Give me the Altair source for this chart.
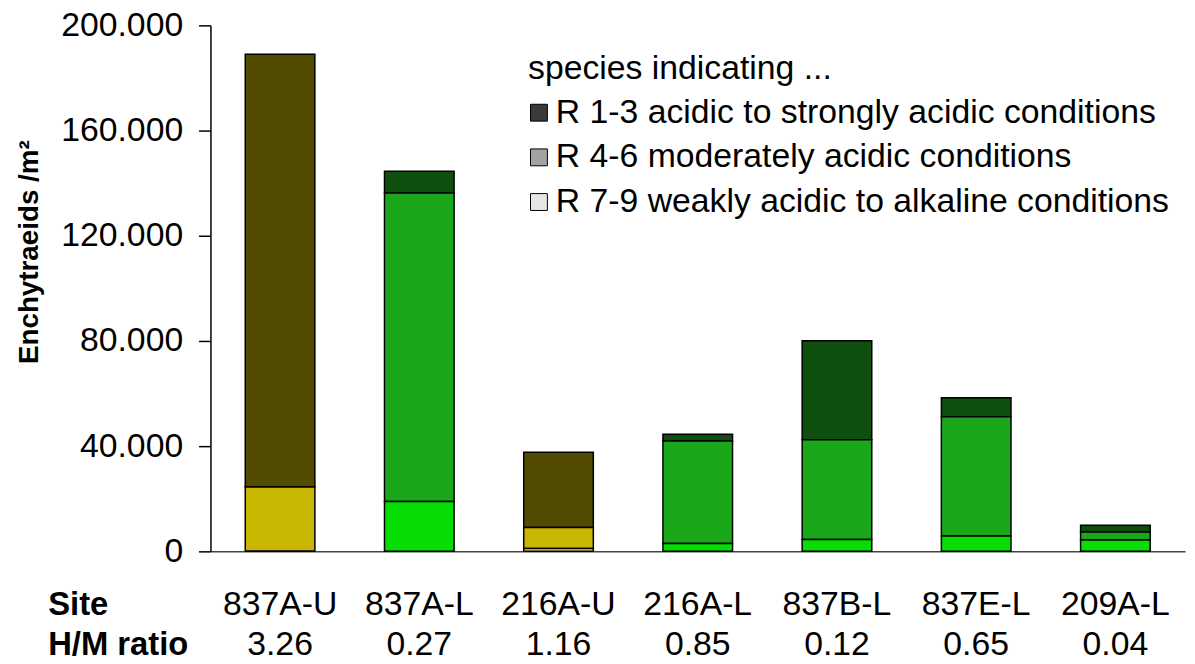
import altair as alt
import pandas as pd

# ---- data ----
sites = ["837A-U", "837A-L", "216A-U", "216A-L", "837B-L", "837E-L", "209A-L"]
hm_ratio = ["3.26", "0.27", "1.16", "0.85", "0.12", "0.65", "0.04"]
site_type = ["U", "L", "U", "L", "L", "L", "L"]
r13 = [164500, 8200, 28600, 2500, 37700, 7200, 2500]     # R 1-3 (top)
r46 = [24500, 117300, 8000, 39000, 37900, 45400, 3100]   # R 4-6 (middle)
r79 = [0, 19000, 1100, 3000, 4500, 5800, 4300]           # R 7-9 (bottom)

classes = [
    "R 1-3 acidic to strongly acidic conditions",
    "R 4-6 moderately acidic conditions",
    "R 7-9 weakly acidic to alkaline conditions",
]
legend_grays = ["#3a3a3a", "#a2a2a2", "#e6e6e6"]
fill_keys = ["U R1-3", "U R4-6", "U R7-9", "L R1-3", "L R4-6", "L R7-9"]
fill_colors = ["#524c00", "#c8b600", "#e6e060", "#0e4f0e", "#1aa81a", "#05dd05"]
y_ticks = [0, 40000, 80000, 120000, 160000, 200000]

FONT = "Liberation Sans"

rows = []
labels = []
for i, s in enumerate(sites):
    lab = f"{s}|{hm_ratio[i]}"
    labels.append(lab)
    for ci, vals in enumerate([r13, r46, r79]):
        short = ["R1-3", "R4-6", "R7-9"][ci]
        rows.append({
            "site": lab,
            "cls": classes[ci],
            "ord": 2 - ci,
            "value": vals[i],
            "key": f"{site_type[i]} {short}",
        })
df = pd.DataFrame(rows)

x_enc = alt.X(
    "site:N",
    sort=labels,
    scale=alt.Scale(paddingInner=0.5, paddingOuter=0.25),
    axis=alt.Axis(
        labelExpr="split(datum.value, '|')",
        labelAngle=0,
        labelFont=FONT,
        labelFontSize=34,
        labelColor="#000000",
        labelBaseline="top",
        labelLineHeight=40,
        labelPadding=37,
        labelOverlap=False,
        ticks=False,
        tickSize=0,
        domainColor="#444444",
        domainWidth=1.5,
        title=["Site", "H/M ratio"],
        titleFont=FONT,
        titleFontSize=33,
        titleFontWeight="bold",
        titleColor="#000000",
        titleAlign="left",
        titleBaseline="top",
        titleAngle=0,
        titleLineHeight=40,
        titleX=-164,
        titleY=38,
    ),
)

bars = alt.Chart(df).mark_bar(stroke="#000000", strokeWidth=1.5).encode(
    x=x_enc,
    y=alt.Y(
        "value:Q",
        stack="zero",
        scale=alt.Scale(domain=[0, 200000], nice=False),
        axis=alt.Axis(
            values=y_ticks,
            labelExpr="replace(format(datum.value, ','), ',', '.')",
            labelFont=FONT,
            labelFontSize=34,
            labelColor="#000000",
            labelPadding=16,
            tickSize=12,
            tickColor="#000000",
            tickWidth=1.5,
            domainColor="#000000",
            domainWidth=1.5,
            title="Enchytraeids /m²",
            titleFont=FONT,
            titleFontSize=28,
            titleFontWeight="bold",
            titleColor="#000000",
            titleAngle=-90,
            titleAlign="center",
            titleBaseline="middle",
            titleX=-182,
            titleY=228,
        ),
    ),
    fill=alt.Fill("key:N", scale=alt.Scale(domain=fill_keys, range=fill_colors), legend=None),
    order=alt.Order("ord:Q"),
)

legend_layer = alt.Chart(df).transform_filter("false").mark_point(
    filled=True, shape="square", opacity=1
).encode(
    color=alt.Color(
        "cls:N",
        scale=alt.Scale(domain=classes, range=legend_grays),
        legend=alt.Legend(
            orient="none",
            legendX=320,
            legendY=27,
            title="species indicating ...",
            titleFont=FONT,
            titleFontSize=34,
            titleFontWeight="normal",
            titleColor="#000000",
            titlePadding=10,
            titleLimit=2000,
            labelFont=FONT,
            labelFontSize=34,
            labelColor="#000000",
            labelLimit=2000,
            labelOffset=0,
            symbolOffset=-6,
            symbolType="square",
            symbolSize=289,
            symbolStrokeColor="#000000",
            symbolStrokeWidth=1,
            symbolOpacity=1,
            rowPadding=11,
            padding=0,
        ),
    )
)

chart = alt.layer(bars, legend_layer).properties(
    width=982,
    height=530,
    autosize=alt.AutoSizeParams(type="none"),
    padding={"left": 204, "top": 15, "right": 2, "bottom": 111},
).configure_view(stroke=None).configure_axis(grid=False)

chart.save("out.html", embed_options={"renderer": "svg", "actions": False})
